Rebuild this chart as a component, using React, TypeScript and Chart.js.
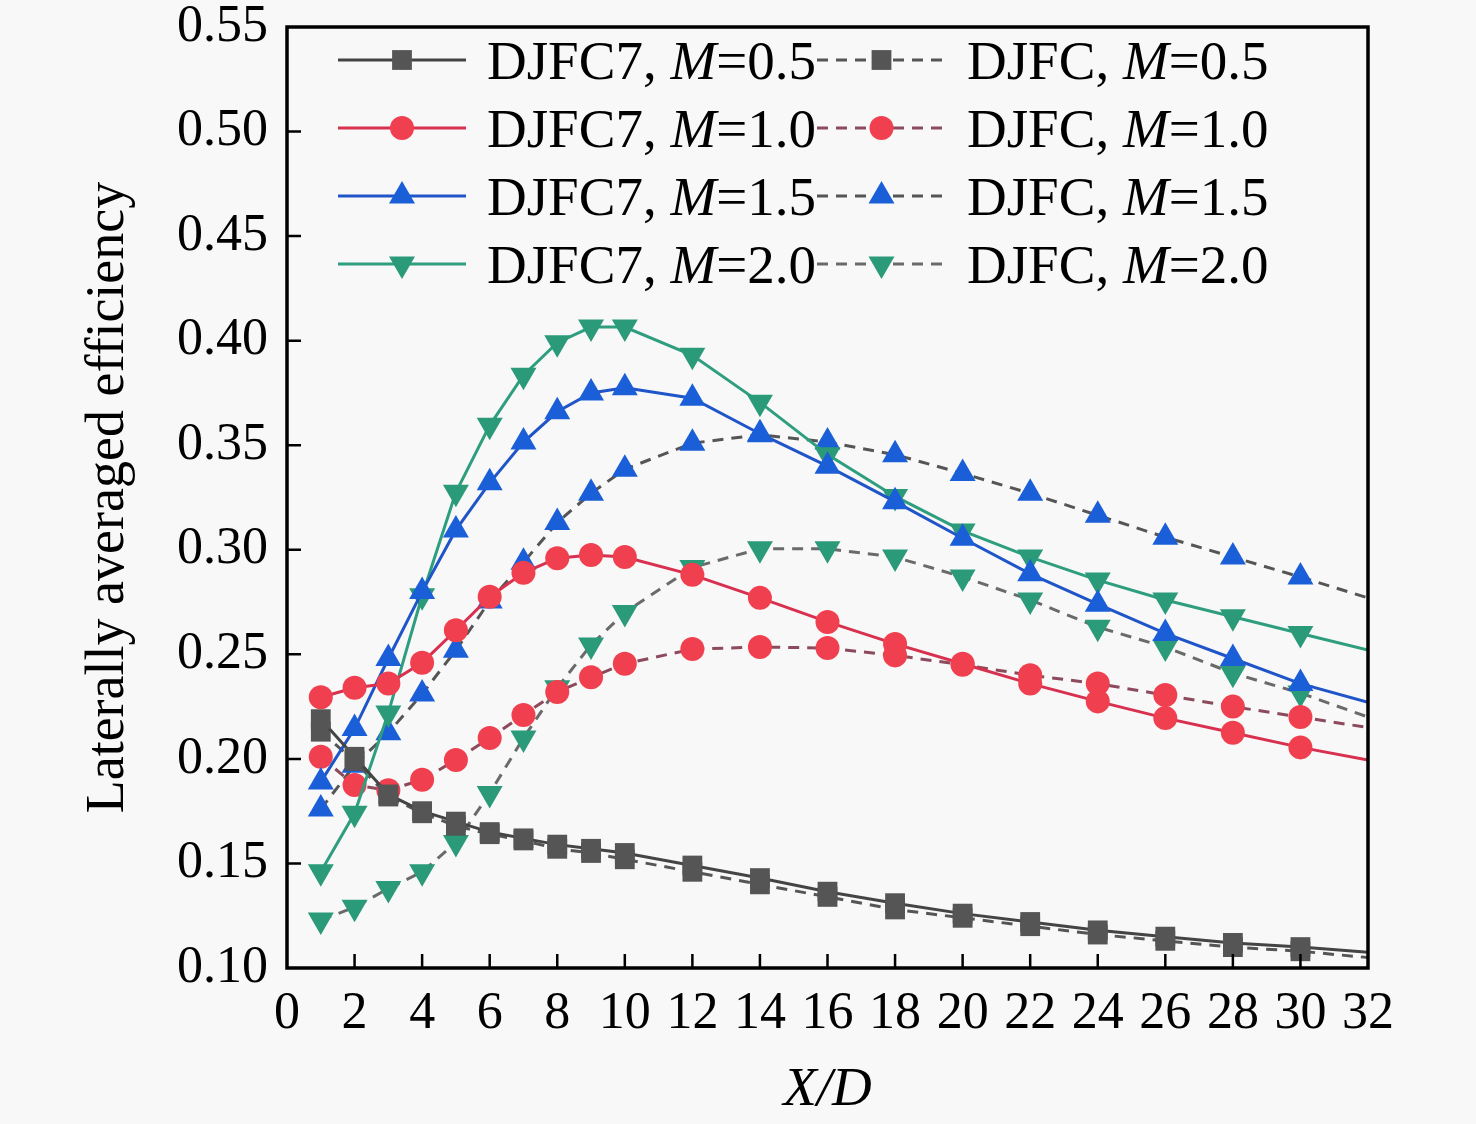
import React, { useEffect, useRef } from 'react';
import { Chart, registerables } from 'chart.js';
import { drawPoint } from 'chart.js/helpers';

Chart.register(...registerables);

// X/D stations (last one only carries the line to the frame edge)
const xStations = [1, 2, 3, 4, 5, 6, 7, 8, 9, 10, 12, 14, 16, 18, 20, 22, 24, 26, 28, 30, 32];

const djfc7M05 = [0.219, 0.201, 0.183, 0.175, 0.170, 0.165, 0.162, 0.159, 0.157, 0.155, 0.149, 0.143, 0.1365, 0.131, 0.126, 0.122, 0.118, 0.115, 0.112, 0.110, 0.1075];
const djfc7M10 = [0.2295, 0.234, 0.236, 0.246, 0.2615, 0.2775, 0.289, 0.296, 0.2975, 0.2965, 0.288, 0.277, 0.2655, 0.255, 0.2455, 0.236, 0.2275, 0.2195, 0.2125, 0.2055, 0.1995];
const djfc7M15 = [0.189, 0.2145, 0.248, 0.280, 0.3095, 0.332, 0.3515, 0.366, 0.375, 0.3775, 0.3725, 0.3555, 0.340, 0.323, 0.3055, 0.2885, 0.274, 0.260, 0.248, 0.236, 0.227];
const djfc7M20 = [0.146, 0.174, 0.222, 0.278, 0.3275, 0.3595, 0.3835, 0.399, 0.4065, 0.4065, 0.393, 0.3705, 0.3455, 0.3255, 0.309, 0.2965, 0.2855, 0.276, 0.268, 0.260, 0.252];

const djfcM05 = [0.213, 0.199, 0.182, 0.174, 0.168, 0.164, 0.161, 0.157, 0.155, 0.152, 0.146, 0.140, 0.134, 0.128, 0.124, 0.120, 0.116, 0.113, 0.110, 0.108, 0.105];
const djfcM10 = [0.201, 0.1875, 0.185, 0.190, 0.1995, 0.210, 0.221, 0.232, 0.239, 0.2455, 0.2525, 0.2535, 0.253, 0.2495, 0.245, 0.240, 0.236, 0.2305, 0.225, 0.220, 0.215];
const djfcM15 = [0.176, 0.197, 0.2125, 0.231, 0.252, 0.2755, 0.294, 0.313, 0.327, 0.3385, 0.351, 0.355, 0.3515, 0.3455, 0.3365, 0.327, 0.3165, 0.306, 0.2965, 0.287, 0.277];
const djfcM20 = [0.123, 0.129, 0.138, 0.146, 0.160, 0.1835, 0.210, 0.234, 0.2545, 0.270, 0.2915, 0.3005, 0.3005, 0.2965, 0.287, 0.276, 0.263, 0.2535, 0.241, 0.2315, 0.220];

const SERIF = '"Liberation Serif", "Times New Roman", serif';

const toPoints = (vals: number[]) => xStations.map((x, i) => ({ x, y: vals[i] }));

// marker radius, hidden on the final (edge) station
const markerRadius = (r: number) => (ctx: any) => (ctx.dataIndex === xStations.length - 1 ? 0 : r);

const makeSeries = (label: string, vals: number[], line: string, marker: string, style: string, rotation: number, r: number, dashed: boolean) => ({
  label,
  data: toPoints(vals),
  borderColor: line,
  borderWidth: 3,
  borderDash: dashed ? [11, 8] : [],
  backgroundColor: marker,
  pointBackgroundColor: marker,
  pointBorderColor: marker,
  pointBorderWidth: 0,
  pointStyle: style,
  pointRotation: rotation,
  pointRadius: markerRadius(r),
  legendRadius: r,
  tension: 0,
  fill: false,
});

const GRAY = '#555555';
const RED = '#f0404f';
const BLUE = '#1a5fd8';
const GREEN = '#2a9a78';

// inward ticks + full frame around the plot
const frameAndTicks = {
  id: 'frameAndTicks',
  afterDatasetsDraw(chart: any) {
    const { ctx, chartArea, scales } = chart;
    const { left, right, top, bottom } = chartArea;
    ctx.save();
    ctx.strokeStyle = '#000';
    ctx.lineWidth = 2.5;
    ctx.setLineDash([]);
    ctx.beginPath();
    scales.x.ticks.forEach((t: any) => {
      if (t.value <= scales.x.min || t.value >= scales.x.max) return;
      const px = scales.x.getPixelForValue(t.value);
      ctx.moveTo(px, bottom);
      ctx.lineTo(px, bottom - 14);
    });
    scales.y.ticks.forEach((t: any) => {
      if (t.value <= scales.y.min + 1e-9 || t.value >= scales.y.max - 1e-9) return;
      const py = scales.y.getPixelForValue(t.value);
      ctx.moveTo(left, py);
      ctx.lineTo(left + 14, py);
    });
    ctx.stroke();
    ctx.lineWidth = 3.5;
    ctx.strokeRect(left, top, right - left, bottom - top);
    ctx.restore();
  },
};

// two-column legend with italic M
const pairedLegend = {
  id: 'pairedLegend',
  afterDraw(chart: any) {
    const { ctx } = chart;
    const rows = [60, 128, 196, 264];
    const cols = [
      { from: 338, to: 466, text: 487 },
      { from: 817, to: 946, text: 967 },
    ];
    ctx.save();
    chart.data.datasets.forEach((ds: any, i: number) => {
      const col = cols[Math.floor(i / 4)];
      const y = rows[i % 4];
      ctx.strokeStyle = ds.borderColor;
      ctx.lineWidth = ds.borderWidth;
      ctx.setLineDash(ds.borderDash);
      ctx.beginPath();
      ctx.moveTo(col.from, y);
      ctx.lineTo(col.to, y);
      ctx.stroke();
      ctx.setLineDash([]);
      ctx.fillStyle = ds.pointBackgroundColor;
      ctx.strokeStyle = ds.pointBorderColor;
      drawPoint(ctx, { pointStyle: ds.pointStyle, rotation: ds.pointRotation, radius: ds.legendRadius, borderWidth: 0 }, (col.from + col.to) / 2, y);

      const [before, after] = ds.label.split('M');
      const base = y + 19;
      let x = col.text;
      ctx.fillStyle = '#000';
      ctx.textBaseline = 'alphabetic';
      ctx.font = `55px ${SERIF}`;
      ctx.fillText(before, x, base);
      x += ctx.measureText(before).width;
      ctx.font = `italic 55px ${SERIF}`;
      ctx.fillText('M', x, base);
      x += ctx.measureText('M').width;
      ctx.font = `55px ${SERIF}`;
      ctx.fillText(after, x, base);
    });
    ctx.restore();
  },
};

const App: React.FC = () => {
  const canvasRef = useRef<HTMLCanvasElement>(null);

  useEffect(() => {
    document.body.style.margin = '0';
    document.body.style.background = '#f8f8f8';
    if (!canvasRef.current) return;

    const chart = new Chart(canvasRef.current, {
      type: 'line',
      data: {
        datasets: [
          makeSeries('DJFC7, M=0.5', djfc7M05, '#444444', GRAY, 'rect', 0, 14, false),
          makeSeries('DJFC7, M=1.0', djfc7M10, '#d8304f', RED, 'circle', 0, 12, false),
          makeSeries('DJFC7, M=1.5', djfc7M15, '#1f55c8', BLUE, 'triangle', 0, 15, false),
          makeSeries('DJFC7, M=2.0', djfc7M20, '#2e9e7e', GREEN, 'triangle', 180, 15, false),
          makeSeries('DJFC, M=0.5', djfcM05, '#555555', GRAY, 'rect', 0, 14, true),
          makeSeries('DJFC, M=1.0', djfcM10, '#8c4a5c', RED, 'circle', 0, 12, true),
          makeSeries('DJFC, M=1.5', djfcM15, '#555555', BLUE, 'triangle', 0, 15, true),
          makeSeries('DJFC, M=2.0', djfcM20, '#6a6a6a', GREEN, 'triangle', 180, 15, true),
        ] as any,
      },
      options: {
        animation: false,
        responsive: true,
        maintainAspectRatio: false,
        layout: { padding: { top: 27, right: 108, left: 0, bottom: 0 } },
        plugins: {
          legend: { display: false },
          tooltip: { enabled: false },
        },
        scales: {
          x: {
            type: 'linear',
            min: 0,
            max: 32,
            ticks: {
              stepSize: 2,
              color: '#000',
              padding: 15,
              autoSkip: false,
              maxRotation: 0,
              font: { family: SERIF, size: 52 },
            },
            grid: { display: false, drawTicks: false },
            border: { display: false },
            title: {
              display: true,
              text: 'X/D',
              color: '#000',
              font: { family: SERIF, size: 55, style: 'italic' },
              padding: { top: 6, bottom: 0 },
            },
            afterFit: (scale: any) => {
              scale.height = 156;
            },
          },
          y: {
            type: 'linear',
            min: 0.1,
            max: 0.55,
            ticks: {
              stepSize: 0.05,
              color: '#000',
              padding: 19,
              // small line height keeps the top label from pushing the plot down
              font: { family: SERIF, size: 52, lineHeight: 0.3 },
              callback: (v: any) => Number(v).toFixed(2),
            },
            grid: { display: false, drawTicks: false },
            border: { display: false },
            title: {
              display: true,
              text: 'Laterally averaged efficiency',
              color: '#000',
              font: { family: SERIF, size: 54 },
              padding: { top: 76, bottom: 0 },
            },
            afterFit: (scale: any) => {
              scale.width = 287;
            },
          },
        },
      },
      plugins: [frameAndTicks, pairedLegend],
    });

    return () => chart.destroy();
  }, []);

  return (
    <div style={{ width: 1476, height: 1124, position: 'relative', background: '#f8f8f8' }}>
      <canvas ref={canvasRef} />
    </div>
  );
};

export default App;
